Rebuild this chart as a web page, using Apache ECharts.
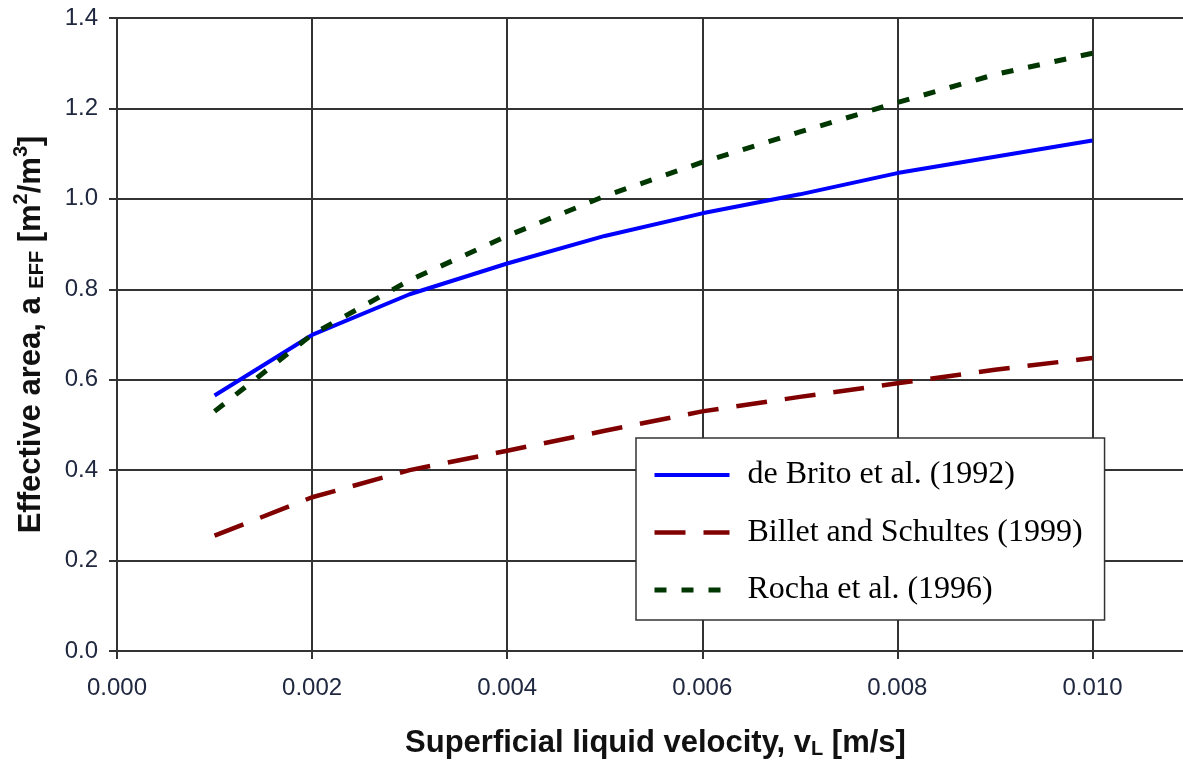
<!DOCTYPE html>
<html>
<head>
<meta charset="utf-8">
<style>
  html, body { margin: 0; padding: 0; background: #fff; overflow: hidden; }
  #chart { width: 1183px; height: 760px; }
</style>
<script src="https://cdn.jsdelivr.net/npm/echarts@6/dist/echarts.min.js"></script>
</head>
<body>
<div id="chart"></div>
<script>
// Superficial liquid velocity (m/s)
const velocity = [0.001, 0.002, 0.003, 0.004, 0.005, 0.006, 0.007, 0.008, 0.009, 0.010];
// Effective area (m2/m3)
const deBrito = [0.565, 0.699, 0.789, 0.857, 0.918, 0.968, 1.010, 1.057, 1.093, 1.129];
const billetSchultes = [0.255, 0.340, 0.400, 0.443, 0.487, 0.530, 0.562, 0.592, 0.622, 0.648];
const rocha = [0.530, 0.700, 0.820, 0.918, 1.006, 1.081, 1.148, 1.213, 1.275, 1.322];
const seriesNames = ['de Brito et al. (1992)', 'Billet and Schultes (1999)', 'Rocha et al. (1996)'];

function pairs(xs, ys) { return xs.map((x, i) => [x, ys[i]]); }

const sans = "'Liberation Sans', Arial, sans-serif";
const serif = "'Liberation Serif', 'Times New Roman', serif";
const gridColor = '#333';
const labelColor = '#202840';

const chart = echarts.init(document.getElementById('chart'), null, { renderer: 'canvas' });
chart.setOption({
  animation: false,
  backgroundColor: '#fff',
  grid: { left: 117, top: 18, right: -7, bottom: 109, containLabel: false, outerBoundsMode: 'none' },
  xAxis: {
    type: 'value', min: 0, max: 0.011, interval: 0.002,
    name: '{t|Superficial liquid velocity, v}{sub|L}{t| [m/s]}',
    nameLocation: 'middle', nameGap: 72,
    nameTextStyle: {
      align: 'center',
      padding: [0, 0, 0, 4],
      rich: {
        t: { fontFamily: sans, fontWeight: 'bold', fontSize: 31, color: '#111', lineHeight: 36, verticalAlign: 'bottom' },
        sub: { fontFamily: sans, fontWeight: 'bold', fontSize: 20, color: '#111', lineHeight: 26, verticalAlign: 'bottom' }
      }
    },
    axisLine: { show: true, onZero: false, lineStyle: { color: gridColor, width: 2 } },
    axisTick: { show: true, length: 8, inside: false, lineStyle: { color: gridColor, width: 2 } },
    axisLabel: {
      show: true, margin: 25, fontFamily: sans, fontSize: 24, color: labelColor,
      showMaxLabel: false,
      formatter: v => v.toFixed(3)
    },
    splitLine: { show: true, lineStyle: { color: gridColor, width: 2 } }
  },
  yAxis: {
    type: 'value', min: 0, max: 1.4, interval: 0.2,
    name: '{t|Effective area, a }{s|EFF}{t| [m}{sup|2}{t|/m}{sup|3}{t|]}',
    nameLocation: 'middle', nameGap: 70, nameRotate: 90,
    nameTextStyle: {
      rich: {
        t: { fontFamily: sans, fontWeight: 'bold', fontSize: 31, color: '#111', lineHeight: 36, verticalAlign: 'bottom' },
        s: { fontFamily: sans, fontWeight: 'bold', fontSize: 20, color: '#111', lineHeight: 32, verticalAlign: 'bottom' },
        sup: { fontFamily: sans, fontWeight: 'bold', fontSize: 20, color: '#111', lineHeight: 22, verticalAlign: 'top' }
      }
    },
    axisLine: { show: true, onZero: false, lineStyle: { color: gridColor, width: 2 } },
    axisTick: { show: true, length: 8, inside: false, lineStyle: { color: gridColor, width: 2 } },
    axisLabel: {
      show: true, margin: 19, fontFamily: sans, fontSize: 24, color: labelColor,
      formatter: v => v.toFixed(1)
    },
    splitLine: { show: true, lineStyle: { color: gridColor, width: 2 } }
  },
  legend: {
    data: seriesNames,
    orient: 'vertical',
    left: 636, top: 438,
    padding: [19, 22, 12, 16],
    itemGap: 21.5,
    itemWidth: 75, itemHeight: 14,
    backgroundColor: '#fff',
    borderColor: '#333', borderWidth: 1.5,
    itemStyle: { opacity: 0 },
    lineStyle: { width: 'inherit', type: 'inherit' },
    textStyle: { fontFamily: serif, fontSize: 32, color: '#000', lineHeight: 36, padding: [0, 0, 0, 13] },
    z: 10
  },
  series: [
    {
      name: seriesNames[0], type: 'line', data: pairs(velocity, deBrito),
      symbol: 'none', showSymbol: false, smooth: false,
      lineStyle: { color: '#0000FF', width: 4, type: 'solid' },
      itemStyle: { color: '#0000FF' }, z: 3
    },
    {
      name: seriesNames[1], type: 'line', data: pairs(velocity, billetSchultes),
      symbol: 'none', showSymbol: false,
      lineStyle: { color: '#800000', width: 4.5, type: [31, 18] },
      itemStyle: { color: '#800000' }, z: 3
    },
    {
      name: seriesNames[2], type: 'line', data: pairs(velocity, rocha),
      symbol: 'none', showSymbol: false,
      lineStyle: { color: '#003600', width: 5, type: [12, 15] },
      itemStyle: { color: '#003600' }, z: 4
    }
  ]
});
</script>
</body>
</html>
